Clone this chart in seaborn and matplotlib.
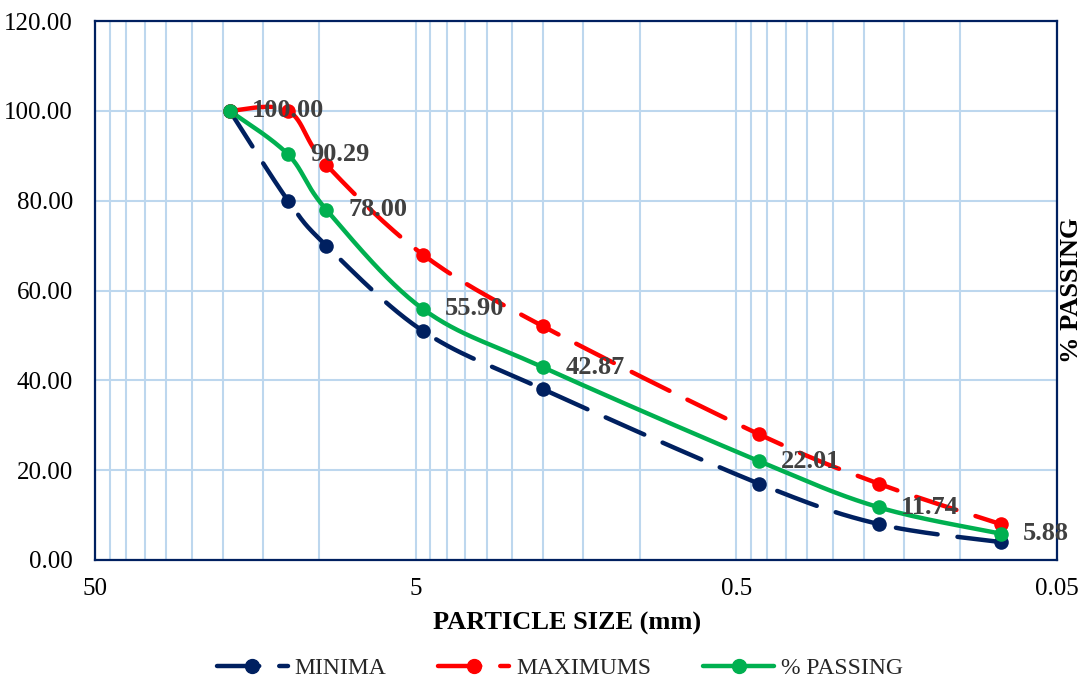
import numpy as np
import pandas as pd
import matplotlib
matplotlib.use("Agg")
import matplotlib.pyplot as plt
from matplotlib.ticker import FixedLocator, FixedFormatter, NullFormatter
from matplotlib.lines import Line2D
import seaborn as sns

# ---- data ----
sizes_mm = [19.0, 12.5, 9.5, 4.75, 2.0, 0.425, 0.18, 0.075]
minima = [100, 80, 70, 51, 38, 17, 8, 4]
maximums = [100, 100, 88, 68, 52, 28, 17, 8]
passing = [100.00, 90.29, 78.00, 55.90, 42.87, 22.01, 11.74, 5.88]
x_ticks = [50, 5, 0.5, 0.05]
x_tick_labels = ["50", "5", "0.5", "0.05"]
y_ticks = [0, 20, 40, 60, 80, 100, 120]

NAVY = "#002060"
RED = "#FF0000"
GREEN = "#00B050"
GRID = "#BDD7EE"
LABEL_GRAY = "#404040"

sns.set_theme(style="white")
plt.rcParams["font.family"] = ["Liberation Serif", "DejaVu Serif"]

W, H = 1081, 680
fig = plt.figure(figsize=(W / 100, H / 100), dpi=100)
ax = fig.add_axes([95 / W, 1 - 560 / H, (1057 - 95) / W, (560 - 21) / H])

ax.set_xscale("log")
ax.set_xlim(50, 0.05)
ax.set_ylim(0, 120)

# pixel scale for smoothing (display-like coordinates)
PX_DEC = 322.0
PX_Y = (560 - 21) / 120.0


def smooth(xs, ys, n=30):
    u = np.log10(np.asarray(xs, float)) * PX_DEC
    v = np.asarray(ys, float) * PX_Y
    P = np.column_stack([u, v])
    out = []
    for i in range(len(P) - 1):
        p0 = P[i - 1] if i > 0 else P[i]
        p1 = P[i]
        p2 = P[i + 1]
        p3 = P[i + 2] if i + 2 < len(P) else P[i + 1]
        c1 = p1 + (p2 - p0) / 6.0
        c2 = p2 - (p3 - p1) / 6.0
        t = np.linspace(0, 1, n, endpoint=(i == len(P) - 2))[:, None]
        seg = ((1 - t) ** 3) * p1 + 3 * ((1 - t) ** 2) * t * c1 + 3 * (1 - t) * t ** 2 * c2 + t ** 3 * p2
        out.append(seg)
    S = np.vstack(out)
    return 10 ** (S[:, 0] / PX_DEC), S[:, 1] / PX_Y


series = [
    ("MINIMA", minima, NAVY, (9.5, 4.5)),
    ("MAXIMUMS", maximums, RED, (9.5, 4.5)),
    ("% PASSING", passing, GREEN, None),
]

LW = 3.2
MS = 10
for name, vals, col, dash in series:
    sx, sy = smooth(sizes_mm, vals)
    df = pd.DataFrame({"x": sx, "y": sy})
    sns.lineplot(data=df, x="x", y="y", ax=ax, color=col, lw=LW, sort=False,
                 estimator=None, legend=False, zorder=3)
    ln = ax.lines[-1]
    ln.set_solid_capstyle("round")
    ln.set_dash_capstyle("round")
    if dash is not None:
        ln.set_dashes(dash)
    pts = pd.DataFrame({"x": sizes_mm, "y": vals})
    sns.scatterplot(data=pts, x="x", y="y", ax=ax, color=col, s=MS ** 2 * 1.1,
                    edgecolor=col, linewidth=0, legend=False, zorder=4)

# data labels for % passing
for xv, yv in zip(sizes_mm, passing):
    ax.annotate(f"{yv:.2f}", xy=(xv, yv), xytext=(22, 0), textcoords="offset pixels",
                ha="left", va="center", fontsize=19, fontweight="bold", color=LABEL_GRAY,
                zorder=6)

# axes styling
ax.xaxis.set_major_locator(FixedLocator(x_ticks))
ax.xaxis.set_major_formatter(FixedFormatter(x_tick_labels))
minor = [b * k for b in (0.05, 0.5, 5) for k in range(2, 10)]
ax.xaxis.set_minor_locator(FixedLocator(minor))
ax.xaxis.set_minor_formatter(NullFormatter())
ax.set_yticks(y_ticks)
ax.set_yticklabels([f"{v:.2f}" for v in y_ticks])

ax.grid(True, which="major", axis="both", color=GRID, lw=1.5, zorder=0)
ax.grid(True, which="minor", axis="x", color=GRID, lw=1.5, zorder=0)
ax.set_axisbelow(True)
ax.tick_params(axis="both", which="both", length=0, labelsize=18, colors="black")
ax.tick_params(axis="y", pad=16)
ax.tick_params(axis="x", pad=13)

for sp in ax.spines.values():
    sp.set_visible(True)
    sp.set_color(NAVY)
    sp.set_linewidth(1.6)

ax.set_xlabel("PARTICLE SIZE (mm)", fontsize=19, fontweight="bold", color="black")
ax.xaxis.set_label_coords((567 - 95) / (1057 - 95), -(612 - 560) / (560 - 21))
ax.yaxis.set_label_position("right")
ax.set_ylabel("% PASSING", fontsize=19, fontweight="bold", labelpad=2, color="black")

handles = [
    Line2D([], [], color=NAVY, lw=LW, ls=(0, (9.5, 4.5)), marker="o", ms=MS, dash_capstyle="round"),
    Line2D([], [], color=RED, lw=LW, ls=(0, (9.5, 4.5)), marker="o", ms=MS, dash_capstyle="round"),
    Line2D([], [], color=GREEN, lw=LW, marker="o", ms=MS, solid_capstyle="round"),
]
fig.legend(handles, [s[0] for s in series], loc="center", bbox_to_anchor=(560 / W, 1 - 668 / H),
           ncol=3, frameon=False, fontsize=17, handlelength=3.0, columnspacing=2.2,
           handletextpad=0.3)

fig.savefig("out.png", dpi=100)
